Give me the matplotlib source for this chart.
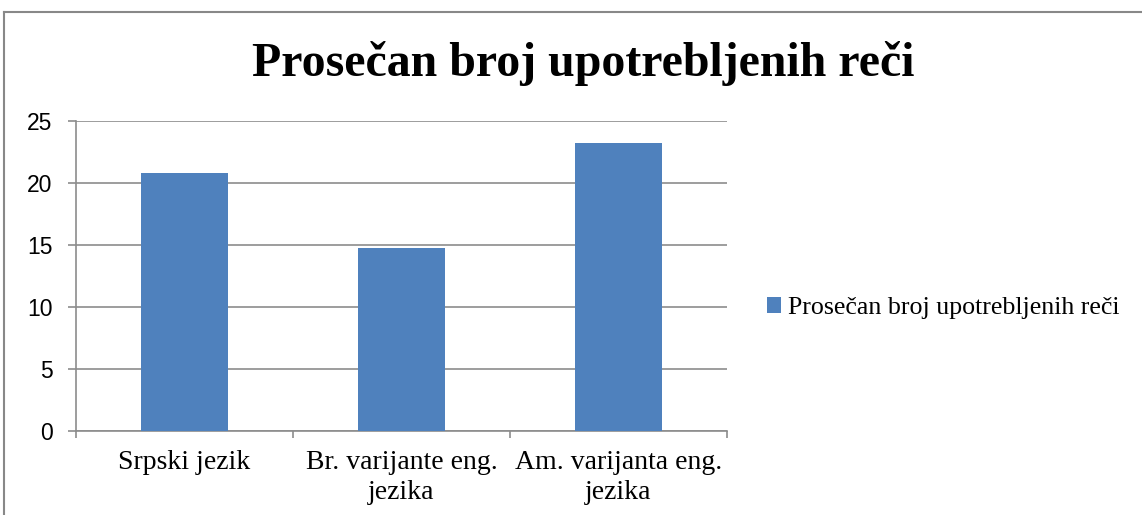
import numpy as np
import matplotlib.pyplot as plt
from matplotlib.lines import Line2D

categories = ["Srpski jezik", "Br. varijante eng.\njezika", "Am. varijanta eng.\njezika"]
values = [20.8, 14.75, 23.2]
series_name = "Prosečan broj upotrebljenih reči"
yticks = [0, 5, 10, 15, 20, 25]

W, H = 1142, 515
fig = plt.figure(figsize=(W / 100, H / 100), dpi=100)
ax = fig.add_axes([76 / W, 1 - 431 / H, (727 - 76) / W, (431 - 121) / H])

x = np.arange(len(categories))
ax.bar(x, values, width=0.4, color="#4F81BD", label=series_name, zorder=3)

ax.set_xlim(-0.5, len(categories) - 0.5)
ax.set_ylim(0, 25)
ax.set_yticks(yticks)
ax.set_yticklabels([str(t) for t in yticks], family="Liberation Sans", fontsize=16.5)
ax.yaxis.grid(True, color="#8c8c8c", linewidth=1.2, zorder=0)

# category labels centered, ticks at boundaries
ax.set_xticks(x)
ax.set_xticklabels(categories, family="Liberation Serif", fontsize=20, linespacing=1.25)
ax.tick_params(axis="x", length=0, pad=14)
ax.set_xticks(np.arange(len(categories) + 1) - 0.5, minor=True)
ax.tick_params(axis="x", which="minor", length=5, color="#8c8c8c", width=1.2)
ax.tick_params(axis="y", length=6, color="#8c8c8c", width=1.2, pad=11)

for s in ["top", "right"]:
    ax.spines[s].set_visible(False)
for s in ["left", "bottom"]:
    ax.spines[s].set_color("#8c8c8c")
    ax.spines[s].set_linewidth(1.2)

fig.text(583 / W, 1 - 63 / H, "Prosečan broj upotrebljenih reči", ha="center", va="center",
         family="Liberation Serif", fontweight="bold", fontsize=34.5)

leg = fig.legend(loc="center left", bbox_to_anchor=(767 / W, 1 - 308 / H), frameon=False,
                 prop={"family": "Liberation Serif", "size": 18.6}, borderpad=0, borderaxespad=0,
                 handlelength=0.55, handleheight=0.55, handletextpad=0.25)

# outer chart border
fig.add_artist(Line2D([3.5 / W, 3.5 / W], [0, 1 - 12 / H], color="#888888", linewidth=1.5))
fig.add_artist(Line2D([3.5 / W, 1], [1 - 12 / H, 1 - 12 / H], color="#888888", linewidth=1.5))

fig.savefig("out.png", dpi=100)
